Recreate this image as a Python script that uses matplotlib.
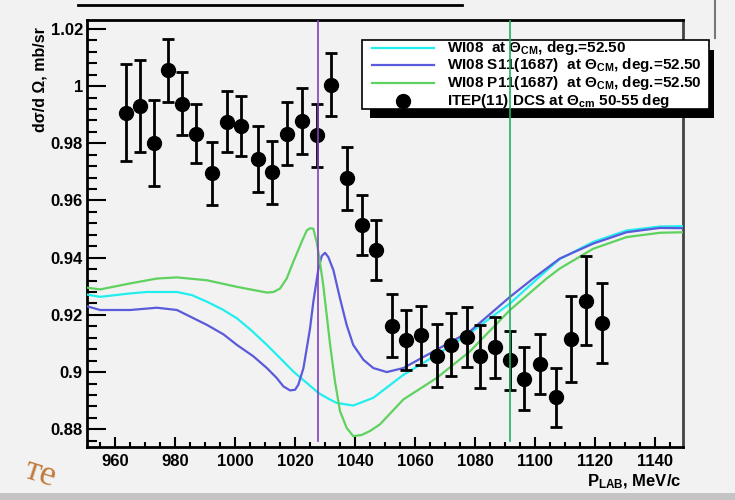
import matplotlib
matplotlib.use("Agg")
import matplotlib.pyplot as plt
from matplotlib.patches import Rectangle
from matplotlib.lines import Line2D
from matplotlib.ticker import MultipleLocator

plt.rcParams['font.family'] = ['Liberation Sans', 'DejaVu Sans']
plt.rcParams['font.weight'] = 'bold'
plt.rcParams['mathtext.fontset'] = 'custom'
plt.rcParams['mathtext.rm'] = 'Liberation Sans:bold'
plt.rcParams['mathtext.it'] = 'Liberation Sans:bold'
plt.rcParams['mathtext.bf'] = 'Liberation Sans:bold'

# ITEP(11) measured DCS
p_lab = [963.7, 968.3, 972.8, 977.7, 982.2, 986.9, 992.4, 997.2, 1002.1, 1007.8,
         1012.4, 1017.2, 1022.2, 1027.2, 1032.0, 1037.2, 1042.2, 1047.0, 1052.2,
         1057.0, 1062.0, 1067.2, 1072.0, 1077.2, 1081.7, 1086.8, 1091.7, 1096.3,
         1101.7, 1106.9, 1111.9, 1117.2, 1122.4]
dcs = [0.9907, 0.9930, 0.9800, 1.0055, 0.9938, 0.9834, 0.9695, 0.9875, 0.9860, 0.9744,
       0.9698, 0.9834, 0.9878, 0.9828, 1.0005, 0.9677, 0.9515, 0.9428, 0.9162,
       0.9112, 0.9128, 0.9057, 0.9095, 0.9124, 0.9055, 0.9086, 0.9041, 0.8977,
       0.9028, 0.8912, 0.9116, 0.9250, 0.9173]
dcs_err = [0.017, 0.016, 0.015, 0.011, 0.011, 0.0103, 0.011, 0.0107, 0.0106, 0.0116,
           0.011, 0.011, 0.0116, 0.011, 0.011, 0.011, 0.0105, 0.0105, 0.011,
           0.0104, 0.0103, 0.011, 0.011, 0.0105, 0.011, 0.0105, 0.0104, 0.011,
           0.0105, 0.0103, 0.015, 0.0155, 0.014]

# WI08 solution
wi08_x = [950.6, 955, 965, 970.6, 980.6, 985.6, 990.6, 995.6, 1000.6, 1005.6, 1010.6,
          1015, 1019.4, 1023.9, 1027.8, 1031.1, 1033.9, 1039.4, 1046.1, 1056.1, 1067.2,
          1078.3, 1091.7, 1101.7, 1108.3, 1119.4, 1130.6, 1141.7, 1150]
wi08_y = [0.9271, 0.9263, 0.9275, 0.928, 0.928, 0.9269, 0.9246, 0.922, 0.9188, 0.9144,
          0.9095, 0.9049, 0.9002, 0.8962, 0.8927, 0.8907, 0.8892, 0.8883, 0.891, 0.899,
          0.906, 0.9136, 0.924, 0.9335, 0.9395, 0.9455, 0.9495, 0.9509, 0.951]

# WI08 + S11(1687)
s11_x = [950.6, 955, 965, 973.9, 980.6, 990.6, 996.1, 1000.6, 1006.1, 1010.6, 1013.9,
         1016.1, 1018.3, 1020, 1021.1, 1022.8, 1023.9, 1025, 1026.1, 1027.8, 1028.9,
         1030, 1031.1, 1032.8, 1035, 1037.2, 1039.4, 1042.8, 1046.1, 1050.6, 1056.1,
         1067.2, 1078.3, 1091.7, 1099.4, 1108.3, 1119.4, 1130.6, 1141.7, 1150]
s11_y = [0.923, 0.9217, 0.9217, 0.9225, 0.9217, 0.9165, 0.9132, 0.9095, 0.9055, 0.9014,
         0.8979, 0.895, 0.8936, 0.8938, 0.8956, 0.9014, 0.9083, 0.9153, 0.9246, 0.9362,
         0.9406, 0.9417, 0.9402, 0.9356, 0.9257, 0.9165, 0.9095, 0.9043, 0.9014, 0.9,
         0.9014, 0.9078, 0.9142, 0.9263, 0.9327, 0.9397, 0.9449, 0.9489, 0.9504, 0.9503]

# WI08 + P11(1687)
p11_x = [950.6, 955, 965, 973.9, 980.6, 990.6, 1000.6, 1010.6, 1012.8, 1015, 1017.2,
         1019.4, 1022.2, 1023.9, 1025, 1026.1, 1027.2, 1028.3, 1029.4, 1031.7, 1033.3,
         1035, 1037.2, 1039.4, 1042.2, 1045, 1048.3, 1056.1, 1067.2, 1078.3, 1091.7,
         1103.9, 1108.3, 1119.4, 1130.6, 1141.7, 1150]
p11_y = [0.9295, 0.9289, 0.931, 0.9327, 0.9331, 0.9321, 0.9298, 0.9278, 0.928, 0.9292,
         0.9327, 0.9385, 0.9455, 0.9495, 0.9503, 0.9501, 0.9455, 0.9385, 0.9304, 0.9095,
         0.8968, 0.8863, 0.8805, 0.8776, 0.878, 0.8794, 0.8817, 0.8904, 0.8979, 0.9072,
         0.9217, 0.9327, 0.9362, 0.9431, 0.9472, 0.9487, 0.9489]

resonance_lines = [1027.7, 1091.7]
resonance_colors = ['#8040c0', '#20b060']

bg = '#f2f2f2'
c_cyan = '#22eeee'
c_blue = '#5a5adc'
c_green = '#5ed25e'

fig = plt.figure(figsize=(7.35, 5), dpi=100, facecolor=bg)
ax = fig.add_axes([87 / 735, 53 / 500, 596 / 735, 427 / 500], facecolor=bg)

ax.plot(wi08_x, wi08_y, color=c_cyan, lw=1.6, solid_joinstyle='round', zorder=3)
ax.plot(s11_x, s11_y, color=c_blue, lw=1.6, solid_joinstyle='round', zorder=3)
ax.plot(p11_x, p11_y, color=c_green, lw=1.6, solid_joinstyle='round', zorder=3)
ax.errorbar(p_lab, dcs, yerr=dcs_err, fmt='o', color='black', ms=10,
            elinewidth=2, capsize=4, capthick=2, zorder=4)

for xv, col in zip(resonance_lines, resonance_colors):
    ax.axvline(xv, ymin=0.015, ymax=1, color=col, lw=1.2, zorder=8)

ax.set_xlim(950.6, 1149.4)
ax.set_ylim(0.8738, 1.0231)
ax.xaxis.set_major_locator(MultipleLocator(20))
ax.xaxis.set_minor_locator(MultipleLocator(5))
ax.yaxis.set_major_locator(MultipleLocator(0.02))
ax.yaxis.set_minor_locator(MultipleLocator(0.004))
ax.yaxis.set_major_formatter(plt.FuncFormatter(lambda v, p: f"{v:.2f}".rstrip('0').rstrip('.')))

ax.tick_params(axis='y', which='major', direction='in', length=14, width=1.5, pad=3, labelsize=12)
ax.tick_params(axis='y', which='minor', direction='in', length=7, width=1.5)
ax.tick_params(axis='x', which='major', direction='in', length=7, width=1.5, pad=5, labelsize=12)
ax.tick_params(axis='x', which='minor', direction='in', length=3.5, width=1.5)
for lab in ax.get_xticklabels() + ax.get_yticklabels():
    lab.set_fontweight('bold')
for s in ax.spines.values():
    s.set_linewidth(2)
    s.set_color('black')
ax.spines['right'].set_color('#444444')

# legend box (drawn by hand, with ROOT-style shadow)
def fx(px):
    return px / 735

def fy(py):
    return 1 - py / 500

ax.add_patch(Rectangle((fx(370), fy(118)), fx(714) - fx(370), fy(50) - fy(118),
                       transform=fig.transFigure, facecolor='black', edgecolor='none',
                       clip_on=False, zorder=6))
ax.add_patch(Rectangle((fx(362), fy(109)), fx(709) - fx(362), fy(40) - fy(109),
                       transform=fig.transFigure, facecolor='white', edgecolor='black',
                       lw=1.2, clip_on=False, zorder=6.1))
rows = [48, 65, 83, 101]
labels = [r"WI08  at $\Theta_{\mathrm{CM}}$, deg.=52.50",
          r"WI08 S11(1687)  at $\Theta_{\mathrm{CM}}$, deg.=52.50",
          r"WI08 P11(1687)  at $\Theta_{\mathrm{CM}}$, deg.=52.50",
          r"ITEP(11) DCS at $\Theta_{\mathrm{cm}}$ 50-55 deg"]
for py, col in zip(rows[:3], [c_cyan, c_blue, c_green]):
    ax.add_line(Line2D([fx(372), fx(434)], [fy(py), fy(py)], transform=fig.transFigure,
                       color=col, lw=1.6, clip_on=False, zorder=6.2))
ax.add_line(Line2D([fx(403)], [fy(rows[3])], transform=fig.transFigure, marker='o',
                   ms=10, color='black', clip_on=False, zorder=6.2))
for py, txt in zip(rows, labels):
    ax.text(fx(447), fy(py), txt, transform=fig.transFigure, fontsize=11, fontweight='bold',
            va='center', ha='left', clip_on=False, zorder=6.3)

fig.text(fx(40), fy(27), "dσ/d Ω, mb/sr", rotation=90, ha='center', va='top',
         fontsize=11.5, fontweight='bold')
fig.text(fx(681), fy(482), r"P$_{\mathrm{LAB}}$, MeV/c", ha='right', va='center',
         fontsize=12, fontweight='bold')

# page decorations
fig.add_artist(Line2D([fx(78), fx(462)], [fy(5), fy(5)], color='black', lw=2))
fig.add_artist(Line2D([fx(715), fx(715)], [fy(0), fy(38)], color='#777777', lw=1.5))
fig.add_artist(Rectangle((0, 0), 1, 7 / 500, transform=fig.transFigure,
                         facecolor='#c4c4c4', edgecolor='none'))
fig.text(fx(20), fy(474), "те", fontsize=26, family='Liberation Serif', fontweight='normal',
         color='#c07a3a', rotation=-18, ha='left', va='center')

fig.savefig("out.png", dpi=100, facecolor=bg)
